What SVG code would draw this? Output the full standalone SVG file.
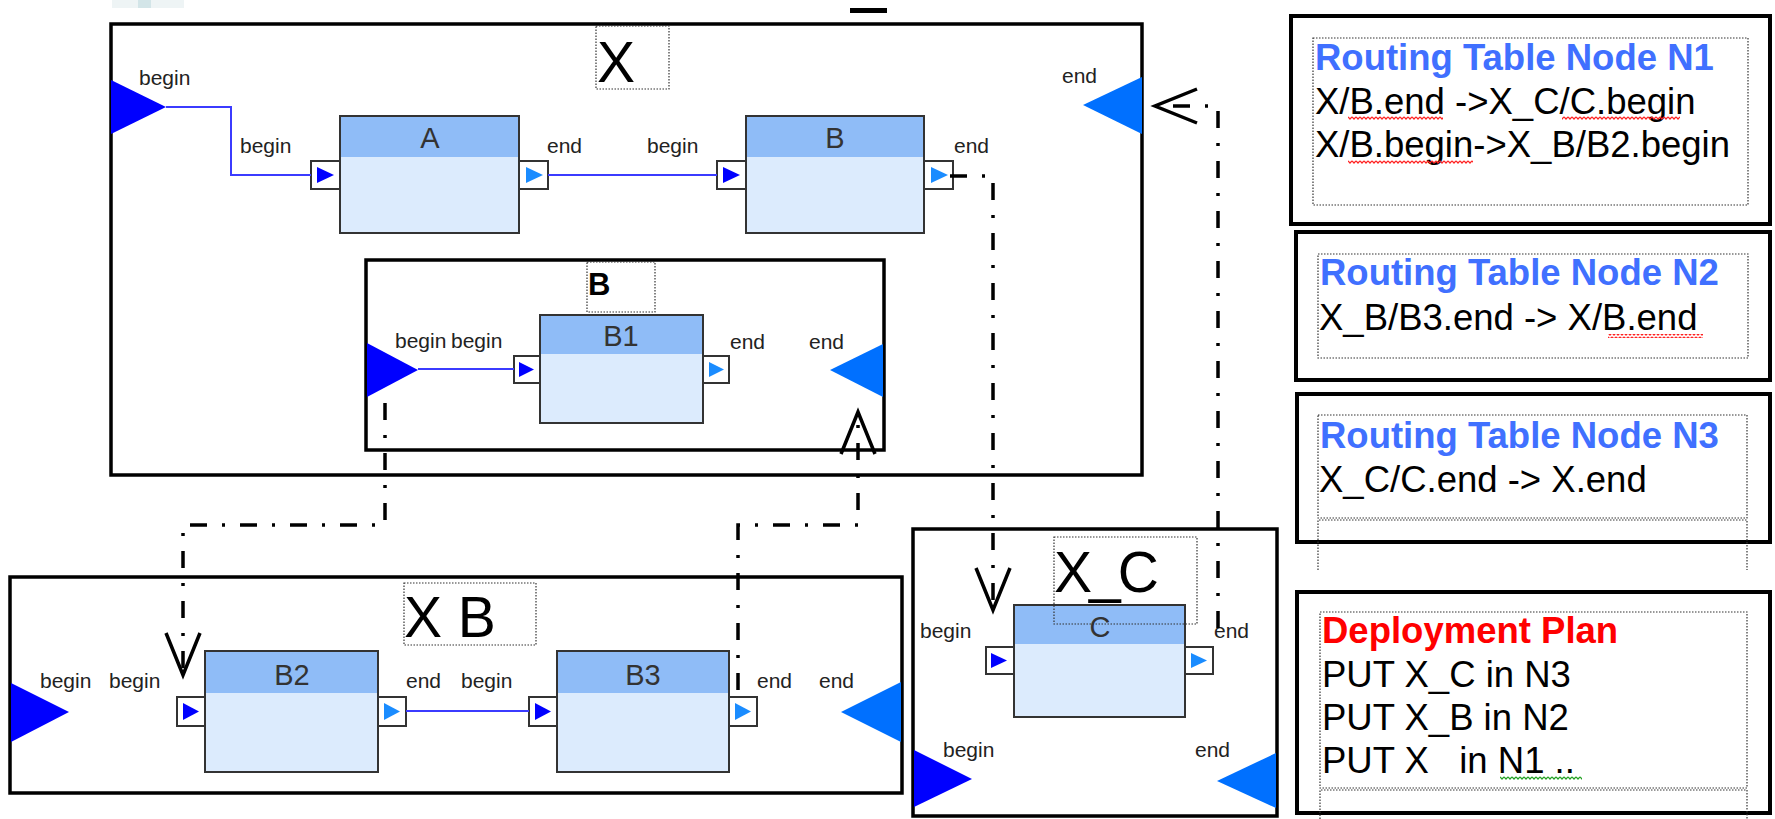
<svg xmlns="http://www.w3.org/2000/svg" width="1775" height="819" viewBox="0 0 1775 819">
<style>
.frame{fill:#fff;stroke:#000;stroke-width:3.5}
.panel{fill:#fff;stroke:#000;stroke-width:4}
.dot{fill:none;stroke:#333;stroke-width:1.2;stroke-dasharray:1.5 1.5}
.body{fill:#dcebfd;stroke:#333;stroke-width:2}
.head{fill:#8fbcf7}
.port{fill:#fff;stroke:#333;stroke-width:2}
.pin{fill:#0000ff}
.pout{fill:#1a8cff}
.bin{fill:#0000ff}
.bout{fill:#0070ff}
.wire{fill:none;stroke:#3b3bff;stroke-width:2}
.lbl{font-family:"Liberation Sans",Arial,sans-serif;font-size:21px;fill:#222}
.ttl{font-family:"Liberation Sans",Arial,sans-serif;font-size:29px;fill:#333;text-anchor:middle}
.big{font-family:"Liberation Sans",Arial,sans-serif;font-size:57px;fill:#000}
.ptxt{font-family:"Liberation Sans",Arial,sans-serif;font-size:36.5px;fill:#000}
.rt{font-weight:bold;fill:#4070ff}
.dp{font-weight:bold;fill:#ff0000}
.dash{fill:none;stroke:#000;stroke-width:3.5;stroke-dasharray:17 15 3 15}
</style>
<defs>
<marker id="openArrow" markerUnits="userSpaceOnUse" markerWidth="60" markerHeight="50" viewBox="-50 -25 60 50" refX="0" refY="0" orient="auto">
<path d="M-42,-17 L0,0 L-42,17" fill="none" stroke="#000" stroke-width="3.5"/>
</marker>
<pattern id="wavyRed" width="4" height="4" patternUnits="userSpaceOnUse">
<path d="M0,0.8 L2,3 L4,0.8" fill="none" stroke="#ff2020" stroke-width="1.2"/>
</pattern>
<pattern id="wavyGreen" width="4" height="4" patternUnits="userSpaceOnUse">
<path d="M0,0.8 L2,3 L4,0.8" fill="none" stroke="#20a020" stroke-width="1.2"/>
</pattern>
</defs>
<rect width="1775" height="819" fill="#fff"/>
<rect x="112" y="0" width="72" height="8" fill="#eef4f5"/>
<rect x="138" y="0" width="13" height="8" fill="#d3e5e8"/>
<rect x="850" y="8" width="37" height="5" fill="#000"/>

<g id="X">
<rect class="frame" x="111" y="24" width="1031" height="451"/>
<rect class="dot" x="596" y="26" width="73" height="63"/>
<text class="big" x="597" y="82">X</text>
<polygon class="bin" points="111,80 166,107 111,134"/>
<text class="lbl" x="139" y="85">begin</text>
<polygon class="bout" points="1142,77 1083,105 1142,134"/>
<text class="lbl" x="1062" y="83">end</text>
</g>

<g id="A">
<rect class="body" x="340" y="116" width="179" height="117"/>
<rect class="head" x="341" y="117" width="177" height="40"/>
<text class="ttl" x="430" y="148">A</text>
<rect class="port" x="311" y="161" width="29" height="28"/>
<polygon class="pin" points="317,167 334,175 317,183"/>
<rect class="port" x="519" y="161" width="29" height="28"/>
<polygon class="pout" points="526,167 543,175 526,183"/>
<text class="lbl" x="240" y="153">begin</text>
<text class="lbl" x="547" y="153">end</text>
</g>

<g id="B">
<rect class="body" x="746" y="116" width="178" height="117"/>
<rect class="head" x="747" y="117" width="176" height="40"/>
<text class="ttl" x="835" y="148">B</text>
<rect class="port" x="717" y="161" width="29" height="28"/>
<polygon class="pin" points="723,167 740,175 723,183"/>
<rect class="port" x="924" y="161" width="29" height="28"/>
<polygon class="pout" points="931,167 948,175 931,183"/>
<text class="lbl" x="647" y="153">begin</text>
<text class="lbl" x="954" y="153">end</text>
</g>

<g id="Binner">
<rect class="frame" x="366" y="260" width="518" height="190"/>
<rect class="dot" x="587" y="262" width="68" height="50"/>
<text x="588" y="295" font-family="Liberation Sans, Arial, sans-serif" font-size="31" font-weight="bold" fill="#000">B</text>
<polygon class="bin" points="367,343 418,370 367,397"/>
<polygon class="bout" points="883,344 830,370 883,397"/>
<text class="lbl" x="395" y="348">begin</text>
<text class="lbl" x="451" y="348">begin</text>
<text class="lbl" x="809" y="349">end</text>
</g>

<g id="B1">
<rect class="body" x="540" y="315" width="163" height="108"/>
<rect class="head" x="541" y="316" width="161" height="38"/>
<text class="ttl" x="621" y="346">B1</text>
<rect class="port" x="514" y="356" width="26" height="27"/>
<polygon class="pin" points="519,362 534,369.5 519,377"/>
<rect class="port" x="703" y="356" width="26" height="27"/>
<polygon class="pout" points="709,362 724,369.5 709,377"/>
<text class="lbl" x="730" y="349">end</text>
</g>

<g id="X_B">
<rect class="frame" x="10" y="577" width="892" height="216"/>
<rect class="dot" x="404" y="583" width="132" height="62"/>
<text class="big" x="404" y="637">X B</text>
<polygon class="bin" points="11,683 69,712 11,742"/>
<polygon class="bout" points="901,682 841,712 901,742"/>
<text class="lbl" x="40" y="688">begin</text>
<text class="lbl" x="819" y="688">end</text>
</g>

<g id="B2">
<rect class="body" x="205" y="651" width="173" height="121"/>
<rect class="head" x="206" y="652" width="171" height="41"/>
<text class="ttl" x="292" y="685">B2</text>
<rect class="port" x="177" y="697" width="28" height="29"/>
<polygon class="pin" points="183,703 199,711.5 183,720"/>
<rect class="port" x="378" y="697" width="28" height="29"/>
<polygon class="pout" points="384,703 400,711.5 384,720"/>
<text class="lbl" x="109" y="688">begin</text>
<text class="lbl" x="406" y="688">end</text>
</g>

<g id="B3">
<rect class="body" x="557" y="651" width="172" height="121"/>
<rect class="head" x="558" y="652" width="170" height="41"/>
<text class="ttl" x="643" y="685">B3</text>
<rect class="port" x="529" y="697" width="28" height="29"/>
<polygon class="pin" points="535,703 551,711.5 535,720"/>
<rect class="port" x="729" y="697" width="28" height="29"/>
<polygon class="pout" points="735,703 751,711.5 735,720"/>
<text class="lbl" x="461" y="688">begin</text>
<text class="lbl" x="757" y="688">end</text>
</g>

<g id="X_C">
<rect class="frame" x="913" y="529" width="364" height="287"/>
<polygon class="bin" points="914,750 972,779 914,807"/>
<polygon class="bout" points="1276,753 1217,781 1276,808"/>
<text class="lbl" x="943" y="757">begin</text>
<text class="lbl" x="1195" y="757">end</text>
</g>

<g id="C">
<rect class="body" x="1014" y="605" width="171" height="112"/>
<rect class="head" x="1015" y="606" width="169" height="38"/>
<text class="ttl" x="1100" y="637">C</text>
<rect class="port" x="986" y="647" width="28" height="27"/>
<polygon class="pin" points="991,653 1007,660.5 991,668"/>
<rect class="port" x="1185" y="647" width="28" height="27"/>
<polygon class="pout" points="1191,653 1207,660.5 1191,668"/>
<text class="lbl" x="920" y="638">begin</text>
<text class="lbl" x="1214" y="638">end</text>
</g>

<g id="X_C_label">
<rect class="dot" x="1054" y="537" width="143" height="87"/>
<text class="big" x="1054" y="592" letter-spacing="-3">X_C</text>
</g>

<g id="tableN1">
<rect class="panel" x="1291" y="16" width="479" height="208"/>
<rect class="dot" x="1313" y="38" width="435" height="167"/>
<text class="ptxt rt" x="1315" y="70">Routing Table Node N1</text>
<text class="ptxt" x="1315" y="114">X/B.end -&gt;X_C/C.begin</text>
<text class="ptxt" x="1315" y="157">X/B.begin-&gt;X_B/B2.begin</text>
<rect x="1348" y="116" width="95" height="4" fill="url(#wavyRed)"/>
<rect x="1562" y="116" width="118" height="4" fill="url(#wavyRed)"/>
<rect x="1348" y="160" width="125" height="4" fill="url(#wavyRed)"/>
</g>

<g id="tableN2">
<rect class="panel" x="1296" y="232" width="474" height="148"/>
<rect class="dot" x="1318" y="254" width="430" height="104"/>
<text class="ptxt rt" x="1320" y="285">Routing Table Node N2</text>
<text class="ptxt" x="1319" y="330">X_B/B3.end -&gt; X/B.end</text>
<rect x="1608" y="334" width="95" height="4" fill="url(#wavyRed)"/>
</g>

<g id="tableN3">
<rect class="panel" x="1297" y="394" width="473" height="148"/>
<rect class="dot" x="1318" y="415" width="429" height="103"/>
<path class="dot" d="M1318,570 V520 H1747 V570"/>
<text class="ptxt rt" x="1320" y="448">Routing Table Node N3</text>
<text class="ptxt" x="1319" y="492">X_C/C.end -&gt; X.end</text>
</g>

<g id="deployment">
<rect class="panel" x="1297" y="592" width="473" height="221"/>
<rect class="dot" x="1320" y="612" width="427" height="176"/>
<path class="dot" d="M1320,819 V790 H1747 V819"/>
<text class="ptxt dp" x="1322" y="643">Deployment Plan</text>
<text class="ptxt" x="1322" y="687">PUT X_C in N3</text>
<text class="ptxt" x="1322" y="730">PUT X_B in N2</text>
<text class="ptxt" x="1322" y="773" xml:space="preserve">PUT X   in N1 ..</text>
<rect x="1500" y="776" width="82" height="4" fill="url(#wavyGreen)"/>
</g>

<g id="connectors">
<path class="wire" d="M166,107 H231 V175 H311"/>
<path class="wire" d="M548,175 H717"/>
<path class="wire" d="M418,369 H514"/>
<path class="wire" d="M406,711 H529"/>
<path class="dash" d="M950,176 H993 V610" marker-end="url(#openArrow)"/>
<path class="dash" d="M1218,628 V106 H1155" marker-end="url(#openArrow)"/>
<path class="dash" d="M385,403 V525 H183 V675" marker-end="url(#openArrow)"/>
<path class="dash" d="M738,690 V525 H858 V412" marker-end="url(#openArrow)"/>
</g>
</svg>
